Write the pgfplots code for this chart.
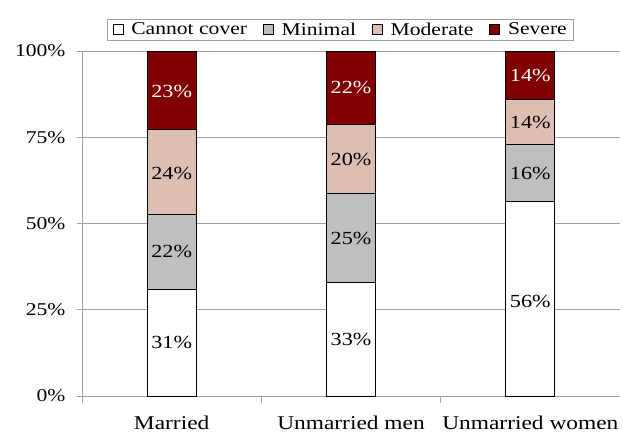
\documentclass[border=0pt]{standalone}
\usepackage{pgfplots}
\pgfplotsset{compat=1.18}
\usepackage{fontspec}
\setmainfont[FakeStretch=1.2]{Liberation Serif}
\definecolor{cgray}{RGB}{191,191,191}
\definecolor{cpink}{RGB}{220,190,179}
\definecolor{cred}{RGB}{128,0,0}
\definecolor{gridc}{RGB}{160,160,160}
\pgfplotsset{
  mybar/.style={fill=#1, draw=black, line width=0.8pt,
    legend image code/.code={\draw[fill=#1, draw=black, line width=0.6pt] (0pt,-5pt) rectangle (10pt,5pt);}},
}
\begin{document}
\begin{tikzpicture}[lb/.style={font=\fontsize{18.5}{20}\selectfont, anchor=center}]
\path[use as bounding box] (-82pt,-36pt) rectangle (541pt,396pt);
\begin{axis}[
  at={(0pt,0pt)}, anchor=south west,
  scale only axis, width=538pt, height=345pt,
  ybar stacked, bar width=49pt,
  xmin=-0.5, xmax=2.5, ymin=0, ymax=100,
  axis lines*=left,
  axis line style={draw=gridc, line width=0.8pt},
  ytick={0,25,50,75,100},
  yticklabels={0\%,25\%,50\%,75\%,100\%},
  ymajorgrids, grid style={draw=gridc, line width=0.8pt},
  xtick={0,1,2},
  xticklabels={Married,Unmarried men,Unmarried women},
  minor xtick={-0.5,0.5,1.5},
  tick align=outside,
  major tick length=5pt, minor tick length=7pt,
  tick style={draw=gridc, line width=0.8pt},
  major x tick style={draw=none},
  xticklabel style={font=\fontsize{19.5}{22}\selectfont, yshift=-11pt},
  yticklabel style={font=\fontsize{18}{20}\selectfont, xshift=-8pt},
  legend style={at={(0.481,1.062)}, anchor=center, legend columns=4,
    draw=gridc, line width=0.8pt, font=\fontsize{18}{20}\selectfont,
    inner xsep=5pt, inner ysep=1.5pt,
    /tikz/every odd column/.append style={column sep=6pt},
    /tikz/every even column/.append style={column sep=14pt}},
  legend cell align=left,
  after end axis/.code={
    \node[lb] at (axis cs:0,15.5) {31\%};
    \node[lb] at (axis cs:1,16.5) {33\%};
    \node[lb] at (axis cs:2,27.5) {56\%};
    \node[lb] at (axis cs:0,41.8) {22\%};
    \node[lb] at (axis cs:1,45.8) {25\%};
    \node[lb] at (axis cs:2,64.6) {16\%};
    \node[lb] at (axis cs:0,64.6) {24\%};
    \node[lb] at (axis cs:1,68.7) {20\%};
    \node[lb] at (axis cs:2,79.4) {14\%};
    \node[lb, text=white] at (axis cs:0,88.4) {23\%};
    \node[lb, text=white] at (axis cs:1,89.4) {22\%};
    \node[lb, text=white] at (axis cs:2,92.8) {14\%};
  },
]
\addplot[mybar=white] coordinates {(0,31) (1,33) (2,56.5)};
\addplot[mybar=cgray] coordinates {(0,21.6) (1,25.6) (2,16.3)};
\addplot[mybar=cpink] coordinates {(0,24.6) (1,20.2) (2,13.2)};
\addplot[mybar=cred] coordinates {(0,22.8) (1,21.2) (2,14.0)};
\legend{Cannot cover,Minimal,Moderate,Severe}
\end{axis}
\end{tikzpicture}
\end{document}
